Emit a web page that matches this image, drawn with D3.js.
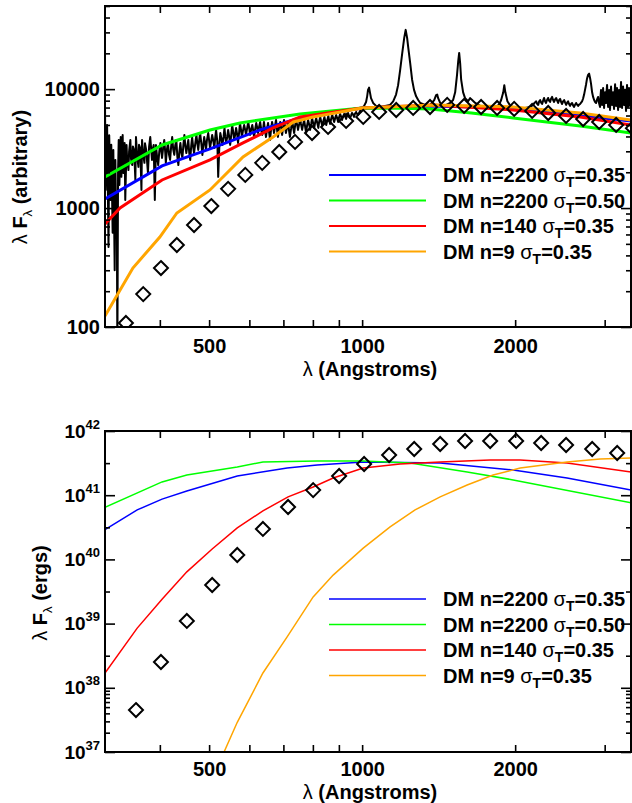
<!DOCTYPE html>
<html>
<head>
<meta charset="utf-8">
<script src="https://cdn.jsdelivr.net/npm/d3@7"></script>
<style>
body { margin: 0; background: #fff; }
text { font-family: "Liberation Sans", Arial, Helvetica, sans-serif; fill: #000; }
</style>
</head>
<body>
<svg id="chart" width="632" height="803"></svg>
<script>
// wavelength ticks (Angstroms)
var xTicks = [400, 500, 600, 700, 800, 900, 1000, 2000, 3000];
var xLabels = [500, 1000, 2000];
var arbMajor = [100, 1000, 10000];
var ergMajor = [1e37, 1e38, 1e39, 1e40, 1e41, 1e42];
var ergMinor = [2e37, 3e37, 4e37, 5e37, 6e37, 7e37, 8e37, 9e37, 3.16e38, 3.16e39, 3.16e40, 3.16e41];

var legendModels = ["DM n=2200 ", "DM n=2200 ", "DM n=140 ", "DM n=9 "];
var legendSigma = ["=0.35", "=0.50", "=0.35", "=0.35"];
var modelColors = ["#0000ff", "#00ff00", "#ff0000", "#ffa500"];

// observed spectrum, arbitrary units [lambda, lambda*F]
var arbSpectrum = [
[312,7400],[313,1420],[315,5000],[317,470],[318,4100],[320,1170],[321,3400],[323,620],[324,3080],[326,300],[327,2540],[328,960],[329,1340],[330,60],[331,2000],[332,3740],[333,1560],[335,3960],[336,1830],[338,4120],[339,1970],[341,3530],[342,1170],
[344,3390],[345,2500],[347,2090],[348,3000],[350,3740],[351,2600],[353,2300],[354,3300],[356,3080],[358,1720],[359,3960],[361,2700],[363,2220],[364,3400],[366,3200],[368,1420],[369,3740],[371,2800],[373,2400],[374,3500],[376,3080],[379,1970],[381,3300],[383,3960],[386,2540],[387,3100],[389,3390],[391,1170],[393,3390],[395,2700],[397,2300],[399,3000],[401,3530],
[404,2640],[406,3200],[408,3740],[410,2900],[411,2400],[413,3100],[415,3530],[417,2800],[419,2540],[421,3300],[423,3960],[425,3100],[427,2800],[429,3400],[431,3740],[433,2700],[435,2300],[437,3000],[439,3530],[441,2900],[443,2640],[445,3400],[447,4120],[449,3300],[451,2900],[453,3300],[455,3740],[457,2900],[459,2540],[461,3300],[463,3960],[465,3300],[467,2900],[470,3600],[472,4120],[474,3500],[476,3080],[478,3700],[480,4280],[483,3400],[485,2800],[487,3400],[489,3960],[491,3500],[493,3080],[495,3700],[498,4280],[500,3700],[502,3200],
[505,3700],[507,4120],[510,3600],[512,3200],[514,3900],[516,4540],[519,3600],[521,1830],[524,3500],[526,4280],[529,3800],[531,3390],[534,4000],[536,4720],[538,4000],[540,3530],[543,4000],[545,4540],[548,3900],[550,3390],[553,4200],[555,5000],[558,4300],[560,3740],[563,4200],[565,4720],[568,4100],[570,3530],[573,4400],[575,5200],[578,4500],[580,3960],[583,4500],[586,5000],[589,4500],[591,4120],[594,4700],[597,5300],[600,4600],[602,4120],[605,4600],[608,5000],[611,4400],[613,3960],[616,4600],[619,5200],[622,4700],[624,4280],[627,4800],[630,5300],
[633,4600],[636,4120],[639,4700],[641,5300],[644,4500],[647,3960],[650,4600],[653,5200],[656,4400],[659,3740],[662,4600],[665,5300],[668,4800],[671,4280],[674,4900],[677,5510],[680,4600],[683,3960],[686,4700],[690,5300],[693,4700],[696,4120],[699,4800],[702,5510],[705,4900],[708,4280],[712,4800],[715,5300],[718,4500],[721,3960],[725,4700],[728,5510],[731,4900],[735,4280],[738,4900],[741,5510],[745,5000],[748,4540],[752,5100],[755,5730],
[758,5100],[762,4540],[765,5000],[769,5510],[772,4900],[776,4280],[779,4900],[783,5510],[787,5000],[790,4540],[794,5100],[797,5730],[801,5200],[805,4720],[808,5200],[812,5730],[816,5200],[820,4720],[823,5300],[827,5840],[831,5300],[835,4910],[839,5400],[843,5840],[846,5400],[850,5000],[854,5500],[858,5950],[861,5500],[865,5100],[869,5600],[873,6070],[877,5700],[881,5300],[885,5700],[889,6070],[893,5700],[897,5300],[901,5800],[905,6190],[909,5900],[913,5510],[917,5900],[922,6190],[926,5900],[930,5620],[934,6000],[938,6310],[942,6000],[947,5730],[951,6000],[955,6310],[960,6100],[964,5840],[968,6200],[973,6430],[977,6200],[982,6070],[986,6300],[991,6560],
[1000,6950],[1009,7230],[1018,7800],[1023,8700],[1027,9850],[1032,10300],[1036,9400],[1041,8400],[1051,7650],[1065,7230],[1085,7080],[1110,7230],[1135,7370],[1151,7900],[1166,9000],[1177,10800],[1188,14500],[1199,20000],[1210,27000],[1218,31500],[1226,27000],[1232,22600],[1243,16600],[1254,12000],[1265,9850],[1277,8700],[1289,8100],[1301,7650],[1330,7370],[1361,7370],[1386,8100],[1398,8900],[1405,9000],[1411,8400],[1424,7650],[1444,7230],[1464,7370],[1490,7650],[1510,8100],[1524,9400],[1537,13160],[1545,17000],[1552,20160],[1559,16500],[1566,12000],[1580,9400],[1594,8400],[1616,7900],[1631,8400],[1646,8100],[1669,7650],[1707,7230],[1746,7080],[1786,7080],[1827,7080],[1859,7370],[1877,8100],[1895,9400],[1904,10800],[1913,9400],[1931,7900],[1957,7230],[2000,6950],[2046,6820],[2093,6950],[2141,7080],
[2170,7370],[2185,7700],[2200,7900],[2210,7500],[2220,7370],[2230,7900],[2240,8100],[2250,7700],[2260,7500],[2270,8000],[2280,8430],[2290,7900],[2300,7650],[2311,8100],[2322,8430],[2332,8000],[2343,7800],[2353,8300],[2364,8600],[2375,8100],[2386,7800],[2397,8200],[2408,8430],[2419,8000],[2430,7650],[2441,8100],[2452,8280],[2463,7800],[2474,7500],[2485,7900],[2497,8100],[2508,7700],[2520,7370],[2531,7700],[2542,7900],[2553,7500],[2565,7230],[2576,7500],[2588,7650],[2600,7300],[2612,7080],[2624,7400],[2636,7650],[2648,7400],[2660,7230],[2672,7400],[2684,7500],[2696,7700],[2708,7900],[2720,8300],[2733,9000],[2745,9900],[2758,11000],[2770,12300],[2783,13200],[2796,13500],[2809,12300],[2821,11000],[2834,9400],[2847,8600],[2860,8100],[2873,7800],[2886,7650],[2899,8200],[2912,8600],[2925,7600],
[2938,7080],[2944,8700],[2951,9850],[2958,8000],[2965,7370],[2972,9000],[2979,10200],[2985,8200],[2992,6950],[2999,8500],[3006,9400],[3013,8100],[3020,7650],[3026,9600],[3033,10850],[3040,8500],[3047,7080],[3054,8600],[3061,9850],[3068,7700],[3074,6690],[3081,8800],[3088,10500],[3095,8400],[3102,7370],[3109,8600],[3116,9400],[3123,7800],[3130,6820],[3137,9000],[3145,11000],[3152,8600],[3159,7230],[3166,8900],[3173,10200],[3180,8000],[3188,6690],[3195,8500],[3202,9850],[3209,8200],[3217,7080],[3224,9300],[3231,11500],[3238,8600],[3246,6950],[3253,8700],[3261,10500],[3268,8500],[3275,7370],[3283,8600],[3290,9850],[3297,7900],[3305,6560],[3312,8700],[3320,10850],[3327,8600],[3335,7080],[3342,8700],[3350,10200],[3358,8400],[3366,7230],[3374,8500],[3382,9850]
];

var arbDiamonds = [
[343,108],[371,189],[402,313],[432,489],[467,721],[505,1040],[545,1450],[589,1900],[636,2400],[687,2960],[738,3600],[797,4280],[857,4810],[930,5400],[1005,5840],[1080,6430],[1167,6680],[1260,6950],[1360,7080],[1470,7370],[1587,7220],[1714,7080],[1843,6950],[1991,6820],[2160,6560],[2323,6300],[2519,5950],[2721,5610],[2926,5300],[3160,5000],[3410,4700]
];

var arbBlue = [[312,1193],[404,2260],[502,3140],[630,4540],[755,5725],[1000,6950],[1361,7220],[1982,6950],[2685,6000],[3380,5400]];
var arbGreen = [[312,1826],[404,3394],[502,4537],[575,5195],[755,6185],[1000,6950],[1200,6900],[1360,6800],[1640,6300],[1982,5725],[2685,4900],[3380,4281]];
var arbRed = [[312,735],[334,1002],[404,1723],[502,2538],[583,3529],[668,4716],[755,5837],[1000,6950],[1379,7366],[1982,6683],[2685,5837],[3380,5000]];
var arbOrange = [[312,124],[354,313],[400,571],[432,909],[502,1420],[583,2690],[668,3963],[732,5300],[801,5837],[1000,6950],[1379,7366],[1982,7083],[2685,6300],[3380,5508]];

var ergDiamonds = [
[359,4.5e37],[402,2.52e38],[452,1.10e39],[507,3.99e39],[568,1.17e40],[638,2.98e40],[715,6.55e40],[801,1.2e41],[901,1.99e41],[1009,3.06e41],[1130,4.23e41],[1266,5.24e41],[1424,6.27e41],[1594,6.98e41],[1786,6.98e41],[2009,6.98e41],[2250,6.5e41],[2519,6.05e41],[2835,5.24e41],[3175,4.54e41]
];

var ergBlue = [[312,2.9e40],[361,5.9e40],[404,8.7e40],[452,1.16e41],[568,1.99e41],[712,2.65e41],[816,2.95e41],[1005,3.29e41],[1424,3.17e41],[1982,2.47e41],[2530,1.85e41],[3380,1.205e41]];
var ergGreen = [[312,6.5e40],[404,1.61e41],[452,2.06e41],[568,2.75e41],[638,3.29e41],[816,3.41e41],[1005,3.41e41],[1243,3.17e41],[1609,2.3e41],[1982,1.73e41],[3380,7.6e40]];
var ergRed = [[312,1.7e38],[361,8.5e38],[404,2.4e39],[452,6.4e39],[507,1.45e40],[568,3.1e40],[638,5.7e40],[715,9.4e40],[801,1.34e41],[877,1.85e41],[1005,2.65e41],[1188,3.06e41],[1424,3.29e41],[1786,3.53e41],[2046,3.53e41],[2530,3.17e41],[3380,2.3e41]];
var ergOrange = [[535,1e37],[568,2.9e37],[638,1.7e38],[712,6.2e38],[801,2.6e39],[877,5.7e39],[1005,1.5e40],[1135,3.2e40],[1271,5.9e40],[1424,9.4e40],[1609,1.44e41],[1810,2.06e41],[2046,2.65e41],[2530,3.29e41],[2938,3.66e41],[3380,3.8e41]];

var FONT = '"Liberation Sans", Arial, Helvetica, sans-serif';
var svg = d3.select("#chart");

var x = d3.scaleLog().domain([312, 3380]).range([105, 631]);
var yArb = d3.scaleLog().domain([100, 50000]).range([327, 6]);
var yErg = d3.scaleLog().domain([1e37, 1e42]).range([752, 431]);

var arbMinor = yArb.ticks().filter(function(d){ return arbMajor.indexOf(d) < 0; });

function styleAxis(g, size) {
  g.select(".domain").remove();
  g.selectAll(".tick line").attr("stroke", "#000").attr("stroke-width", 1.6);
  g.selectAll("text").attr("font-family", FONT).attr("font-weight", "bold")
    .attr("font-size", size).attr("fill", "#000");
}

function drawPanel(y, id, lineW, series, diamonds, spectrum, yFormat, labelSize, xPad) {
  var yb = y.range()[0], yt = y.range()[1];
  svg.append("clipPath").attr("id", id).append("rect")
    .attr("x", 105).attr("y", yt).attr("width", 526).attr("height", yb - yt);

  var plot = svg.append("g").attr("clip-path", "url(#" + id + ")");
  var line = d3.line().x(function(d){ return x(d[0]); }).y(function(d){ return y(d[1]); });

  if (spectrum) {
    plot.append("path").datum(spectrum).attr("d", line)
      .attr("fill", "none").attr("stroke", "#000").attr("stroke-width", 2)
      .attr("stroke-linejoin", "round");
  }
  series.forEach(function(s, i) {
    plot.append("path").datum(s).attr("d", line)
      .attr("fill", "none").attr("stroke", modelColors[i]).attr("stroke-width", lineW);
  });
  plot.selectAll("path.dia").data(diamonds).enter().append("path")
    .attr("class", "dia")
    .attr("d", "M0,-7L7,0L0,7L-7,0Z")
    .attr("transform", function(d){ return "translate(" + x(d[0]) + "," + y(d[1]) + ")"; })
    .attr("fill", "none").attr("stroke", "#000").attr("stroke-width", 2);

  // x axes (bottom labelled, top ticks only)
  var gx = svg.append("g").attr("transform", "translate(0," + yb + ")")
    .call(d3.axisBottom(x).tickValues(xTicks)
      .tickFormat(function(d){ return xLabels.indexOf(d) >= 0 ? d : ""; })
      .tickSizeInner(-7).tickSizeOuter(0).tickPadding(xPad));
  styleAxis(gx, 20);
  var gxt = svg.append("g").attr("transform", "translate(0," + yt + ")")
    .call(d3.axisTop(x).tickValues(xTicks).tickFormat("").tickSizeInner(-7).tickSizeOuter(0));
  styleAxis(gxt, 20);

  var major = y === yArb ? arbMajor : ergMajor;
  var minor = y === yArb ? arbMinor : ergMinor;
  var gy = svg.append("g").attr("transform", "translate(105,0)")
    .call(d3.axisLeft(y).tickValues(major).tickFormat(yFormat).tickSizeInner(-10).tickSizeOuter(0).tickPadding(5));
  styleAxis(gy, labelSize);
  var gym = svg.append("g").attr("transform", "translate(105,0)")
    .call(d3.axisLeft(y).tickValues(minor).tickFormat("").tickSizeInner(-5).tickSizeOuter(0));
  styleAxis(gym, labelSize);
  var gr = svg.append("g").attr("transform", "translate(631,0)")
    .call(d3.axisRight(y).tickValues(major).tickFormat("").tickSizeInner(-10).tickSizeOuter(0));
  styleAxis(gr, labelSize);
  var grm = svg.append("g").attr("transform", "translate(631,0)")
    .call(d3.axisRight(y).tickValues(minor).tickFormat("").tickSizeInner(-5).tickSizeOuter(0));
  styleAxis(grm, labelSize);

  svg.append("rect").attr("x", 105).attr("y", yt).attr("width", 526).attr("height", yb - yt)
    .attr("fill", "none").attr("stroke", "#000").attr("stroke-width", 2);

  return gy;
}

function drawLegend(top, lineW) {
  legendModels.forEach(function(m, i) {
    var cy = top + i * 25.5;
    svg.append("line").attr("x1", 329).attr("x2", 426).attr("y1", cy).attr("y2", cy)
      .attr("stroke", modelColors[i]).attr("stroke-width", lineW);
    var t = svg.append("text").attr("x", 443).attr("y", cy + 7)
      .attr("font-size", 20).attr("font-weight", "bold");
    t.append("tspan").text(m);
    t.append("tspan").attr("font-weight", "normal").text("σ");
    t.append("tspan").attr("font-size", 14).attr("dy", 5).text("T");
    t.append("tspan").attr("dy", -5).text(legendSigma[i]);
  });
}

function yTitle(cx, cy, unit) {
  var t = svg.append("text")
    .attr("transform", "translate(" + cx + "," + cy + ") rotate(-90)")
    .attr("text-anchor", "middle").attr("font-size", 20).attr("font-weight", "bold");
  t.append("tspan").attr("font-weight", "normal").text("λ");
  t.append("tspan").text(" F");
  t.append("tspan").attr("font-weight", "normal").attr("font-size", 13).attr("dy", 5).text("λ");
  t.append("tspan").attr("dy", -5).text(" (" + unit + ")");
}

function xTitle(baseline) {
  var t = svg.append("text").attr("x", 370).attr("y", baseline)
    .attr("text-anchor", "middle").attr("font-size", 20).attr("font-weight", "bold");
  t.append("tspan").attr("font-weight", "normal").text("λ");
  t.append("tspan").text(" (Angstroms)");
}

// top panel: arbitrary units
drawPanel(yArb, "clipArb", 3, [arbBlue, arbGreen, arbRed, arbOrange], arbDiamonds, arbSpectrum,
  function(d){ return d; }, 20, 12);
drawLegend(175, 2);
yTitle(27, 177, "arbitrary");
xTitle(376);

// bottom panel: ergs
var gErg = drawPanel(yErg, "clipErg", 1.5, [ergBlue, ergGreen, ergRed, ergOrange], ergDiamonds, null,
  function(d){ return d; }, 19, 10);
gErg.selectAll(".tick text").each(function(d) {
  var t = d3.select(this);
  t.text(null);
  t.append("tspan").text("10");
  t.append("tspan").attr("font-size", 13).attr("dy", -9).text(Math.round(Math.log10(d)));
});
drawLegend(599, 1.6);
yTitle(47, 593, "ergs");
xTitle(799);
</script>
</body>
</html>
